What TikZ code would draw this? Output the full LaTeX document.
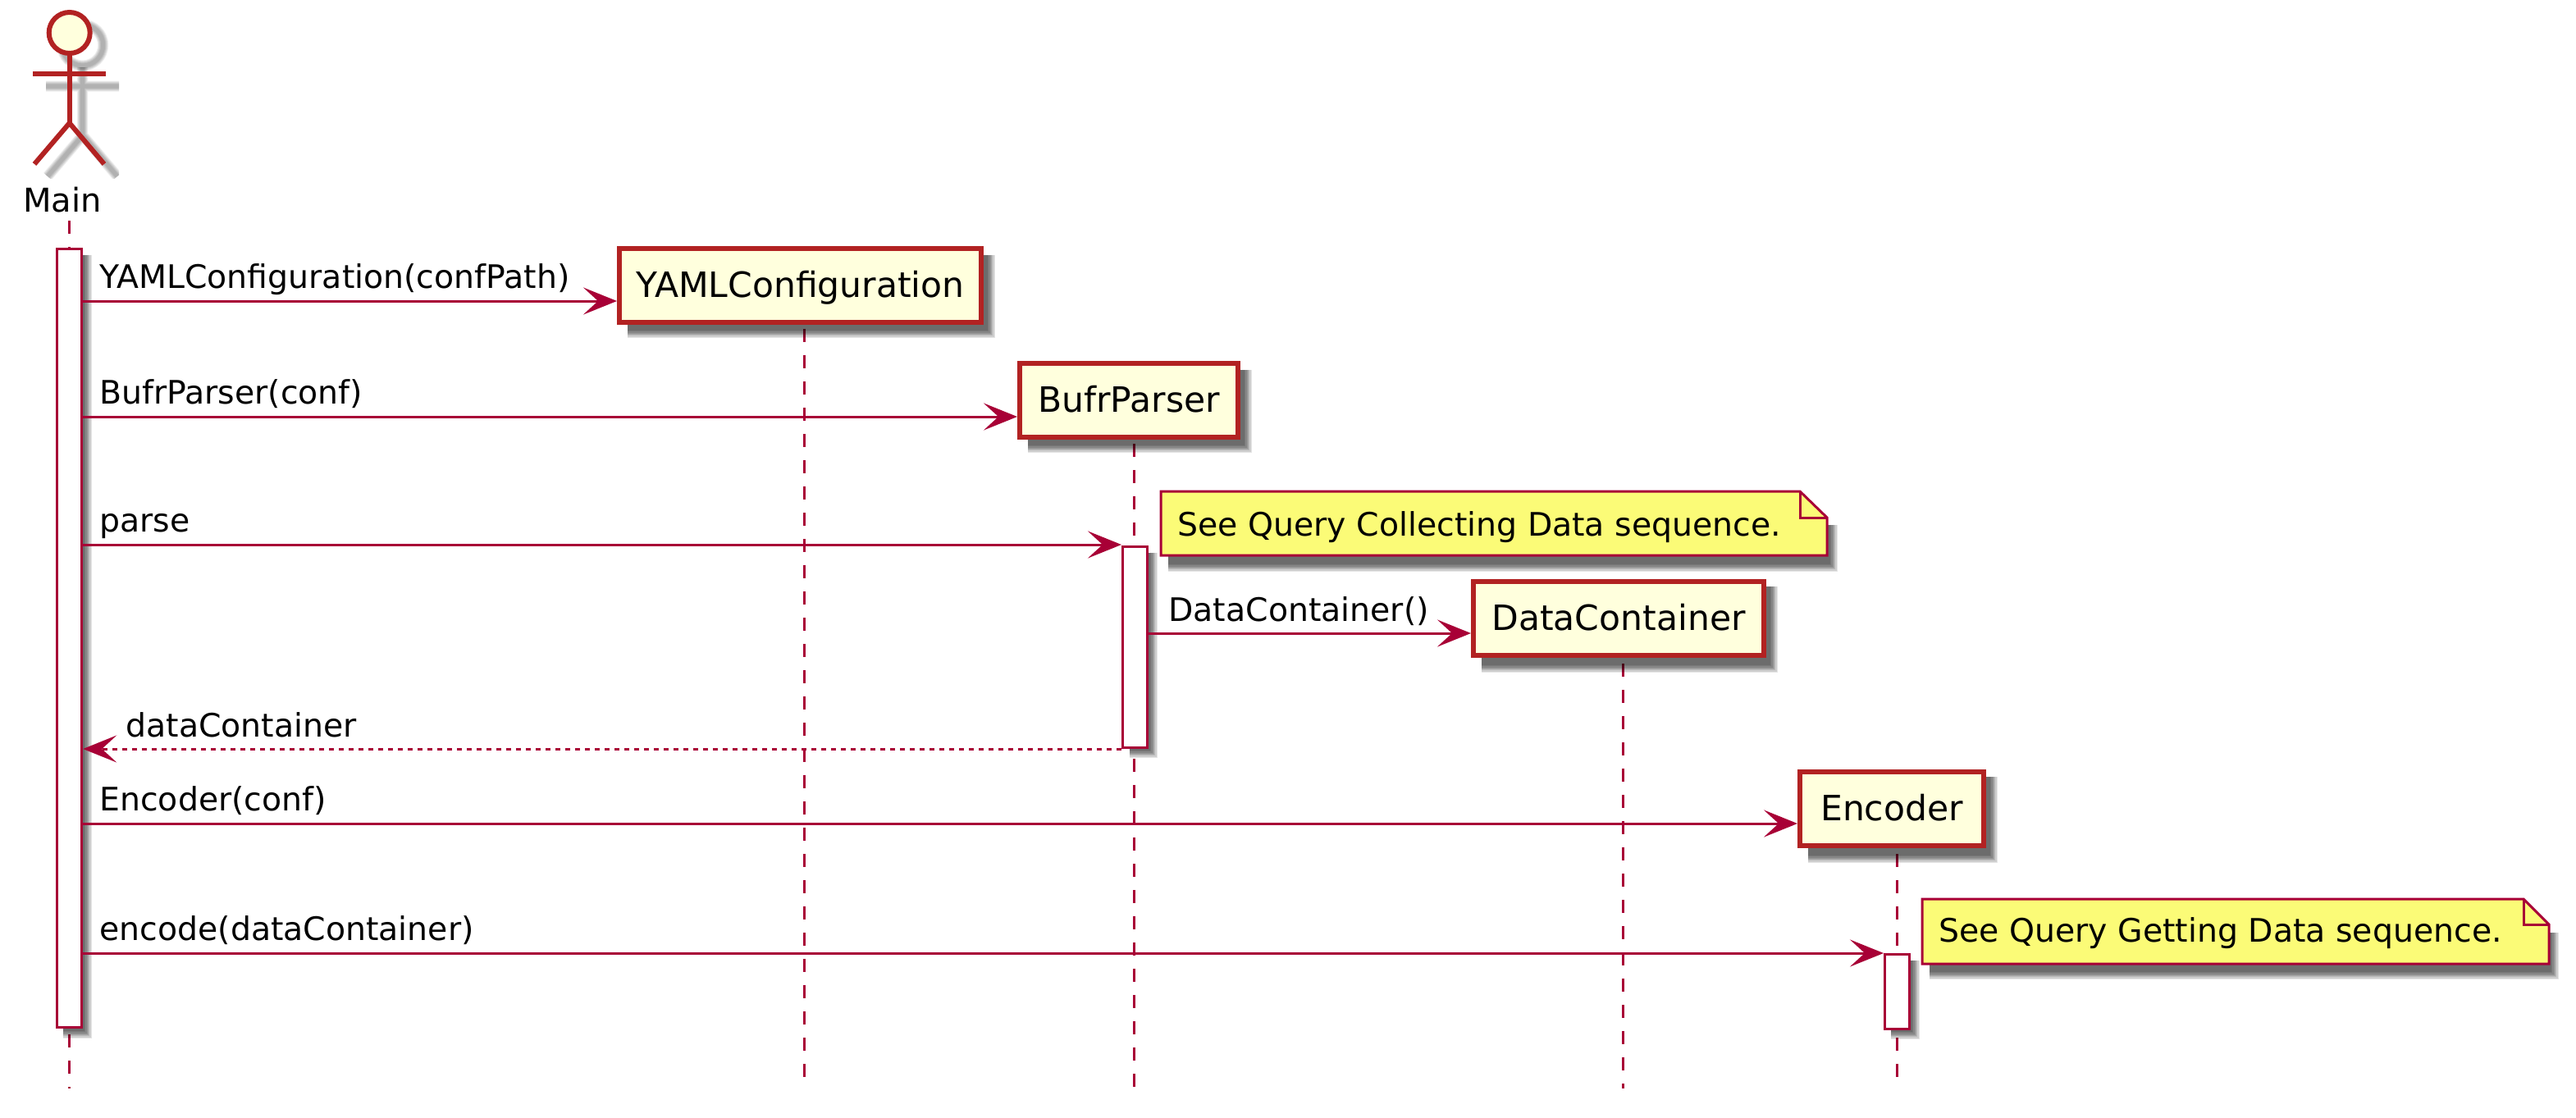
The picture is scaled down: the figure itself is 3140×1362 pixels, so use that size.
\documentclass[tikz,border=0pt]{standalone}
\usepackage{fontspec}
\setmainfont{DejaVu Sans}
\usetikzlibrary{arrows.meta}
\definecolor{linec}{HTML}{A80036}
\definecolor{partc}{HTML}{B22222}
\definecolor{partf}{HTML}{FFFFDD}
\definecolor{notef}{HTML}{FBFB77}
\newcommand{\softshadow}[4]{%
  \foreach \d in {0,1,...,7}{%
    \fill[black,opacity=.1] (#1,#2) rectangle (#3-\d*1.3,#4-\d*1.3);
  }}
\tikzset{
  partbox/.style={draw=partc,fill=partf,line width=3pt,inner sep=0pt,minimum height=45pt,text height=14pt,text depth=0pt,font=\fontsize{21.25}{24}\selectfont},
  actbox/.style={draw=linec,fill=white,line width=1.5pt,inner sep=0pt,minimum width=15pt},
  lifeline/.style={draw=linec,line width=1.5pt,dash pattern=on 8pt off 8pt},
  msgline/.style={draw=linec,line width=1.5pt,-{Stealth[length=20.5pt,width=16.5pt,inset=9pt,fill=linec]}},
  retline/.style={msgline,dash pattern=on 3pt off 3pt},
  msglabel/.style={anchor=base west,inner sep=0pt,font=\fontsize{19.7}{24}\selectfont,text=black},
  notebody/.style={draw=linec,fill=notef,line width=1.5pt,line join=miter},
  actorline/.style={draw=partc,line width=3pt},
}
\begin{document}
\begin{tikzpicture}[x=0.5pt,y=-0.5pt]
\useasboundingbox (0,0) rectangle (3140,1362);
% coordinates
\coordinate (tmain) at (84.7,269);   \coordinate (bmain) at (84.7,1327);
\coordinate (tyaml) at (980,401);    \coordinate (byaml) at (980,1327);
\coordinate (tbufr) at (1382,541);   \coordinate (bbufr) at (1382,1327);
\coordinate (tdata) at (1978,809);   \coordinate (bdata) at (1978,1327);
\coordinate (tenc)  at (2312,1041);  \coordinate (benc)  at (2312,1327);
\coordinate (r1) at (0,367);
\coordinate (r2) at (0,508);
\coordinate (r3) at (0,664);
\coordinate (r4) at (0,772);
\coordinate (r5) at (0,913);
\coordinate (r6) at (0,1004);
\coordinate (r7) at (0,1162);
% lifelines
\draw[lifeline] (tmain) -- (bmain);
\draw[lifeline] (tyaml) -- (byaml);
\draw[lifeline] (tbufr) -- (bbufr);
\draw[lifeline] (tdata) -- (bdata);
\draw[lifeline] (tenc) -- (benc);
% actor shadow
\begin{scope}
  \clip (52,20) rectangle (145,217);
  \foreach \w in {6.5,5.5,4.5,3.5,2.5}{
    \begin{scope}[xshift=8pt,yshift=-7.5pt,draw=black,opacity=.07,line width=\w pt]
      \draw[black] (84.7,40) circle[radius=25];
      \draw[black] (84.7,67) -- (84.7,150) (40,90) -- (129,90) (42,200) -- (84.7,150) -- (127,200);
    \end{scope}
  }
\end{scope}
% actor
\draw[actorline,fill=partf] (84.7,40) circle[radius=25];
\draw[actorline] (84.7,65) -- (84.7,150);
\draw[actorline] (40,90) -- (129,90);
\draw[actorline] (42,200) -- (84.7,150) -- (127,200);
\node[anchor=base west,inner sep=0pt,font=\fontsize{20}{24}\selectfont] (mainlabel) at (28,258) {Main};
% activation shadows and boxes
\softshadow{77}{311}{112}{1266}
\node[actbox,minimum height=474.5pt] (amain) at (84.7,778) {};
\softshadow{1377}{674}{1411}{924}
\node[actbox,minimum height=122.5pt] (abufr) at (1383.5,789) {};
\softshadow{2305}{1171}{2340}{1267}
\node[actbox,minimum height=45.5pt] (aenc) at (2312.5,1209) {};
% participant shadows and boxes
\softshadow{765}{311}{1213}{412}
\node[partbox,minimum width=220.5pt] (yaml) at (975.5,348) {YAMLConfiguration};
\softshadow{1253}{451}{1526}{552}
\node[partbox,minimum width=133pt] (bufr) at (1376,488) {BufrParser};
\softshadow{1806}{715}{2167}{820}
\node[partbox,minimum width=177pt] (data) at (1973,754) {DataContainer};
\softshadow{2204}{947}{2435}{1052}
\node[partbox,minimum width=112pt] (enc) at (2306,986) {Encoder};
% notes
\softshadow{1424}{640}{2240}{697}
\draw[notebody] (1415,599) -- (2194,599) -- (2227,631) -- (2227,677) -- (1415,677) -- cycle;
\draw[notebody,fill=none] (2194,599) -- (2194,631) -- (2227,631);
\node[msglabel] (note1) at (1435,653) {See Query Collecting Data sequence.};
\softshadow{2352}{1137}{3119}{1194}
\draw[notebody] (2343,1096) -- (3076,1096) -- (3107,1127) -- (3107,1175) -- (2343,1175) -- cycle;
\draw[notebody,fill=none] (3076,1096) -- (3076,1127) -- (3107,1127);
\node[msglabel] (note2) at (2363,1148) {See Query Getting Data sequence.};
% messages
\draw[msgline] (amain.east |- r1) -- (yaml.west |- r1);
\node[msglabel] (m1) at (121,351) {YAMLConfiguration(confPath)};
\draw[msgline] (amain.east |- r2) -- (bufr.west |- r2);
\node[msglabel] (m2) at (121,492) {BufrParser(conf)};
\draw[msgline] (amain.east |- r3) -- (abufr.west |- r3);
\node[msglabel] (m3) at (121,648) {parse};
\draw[msgline] (abufr.east |- r4) -- (data.west |- r4);
\node[msglabel] (m4) at (1424,757) {DataContainer()};
\draw[retline] (abufr.west |- r5) -- (amain.east |- r5);
\node[msglabel] (m5) at (153,898) {dataContainer};
\draw[msgline] (amain.east |- r6) -- (enc.west |- r6);
\node[msglabel] (m6) at (121,988) {Encoder(conf)};
\draw[msgline] (amain.east |- r7) -- (aenc.west |- r7);
\node[msglabel] (m7) at (121,1146) {encode(dataContainer)};
\end{tikzpicture}
\end{document}
